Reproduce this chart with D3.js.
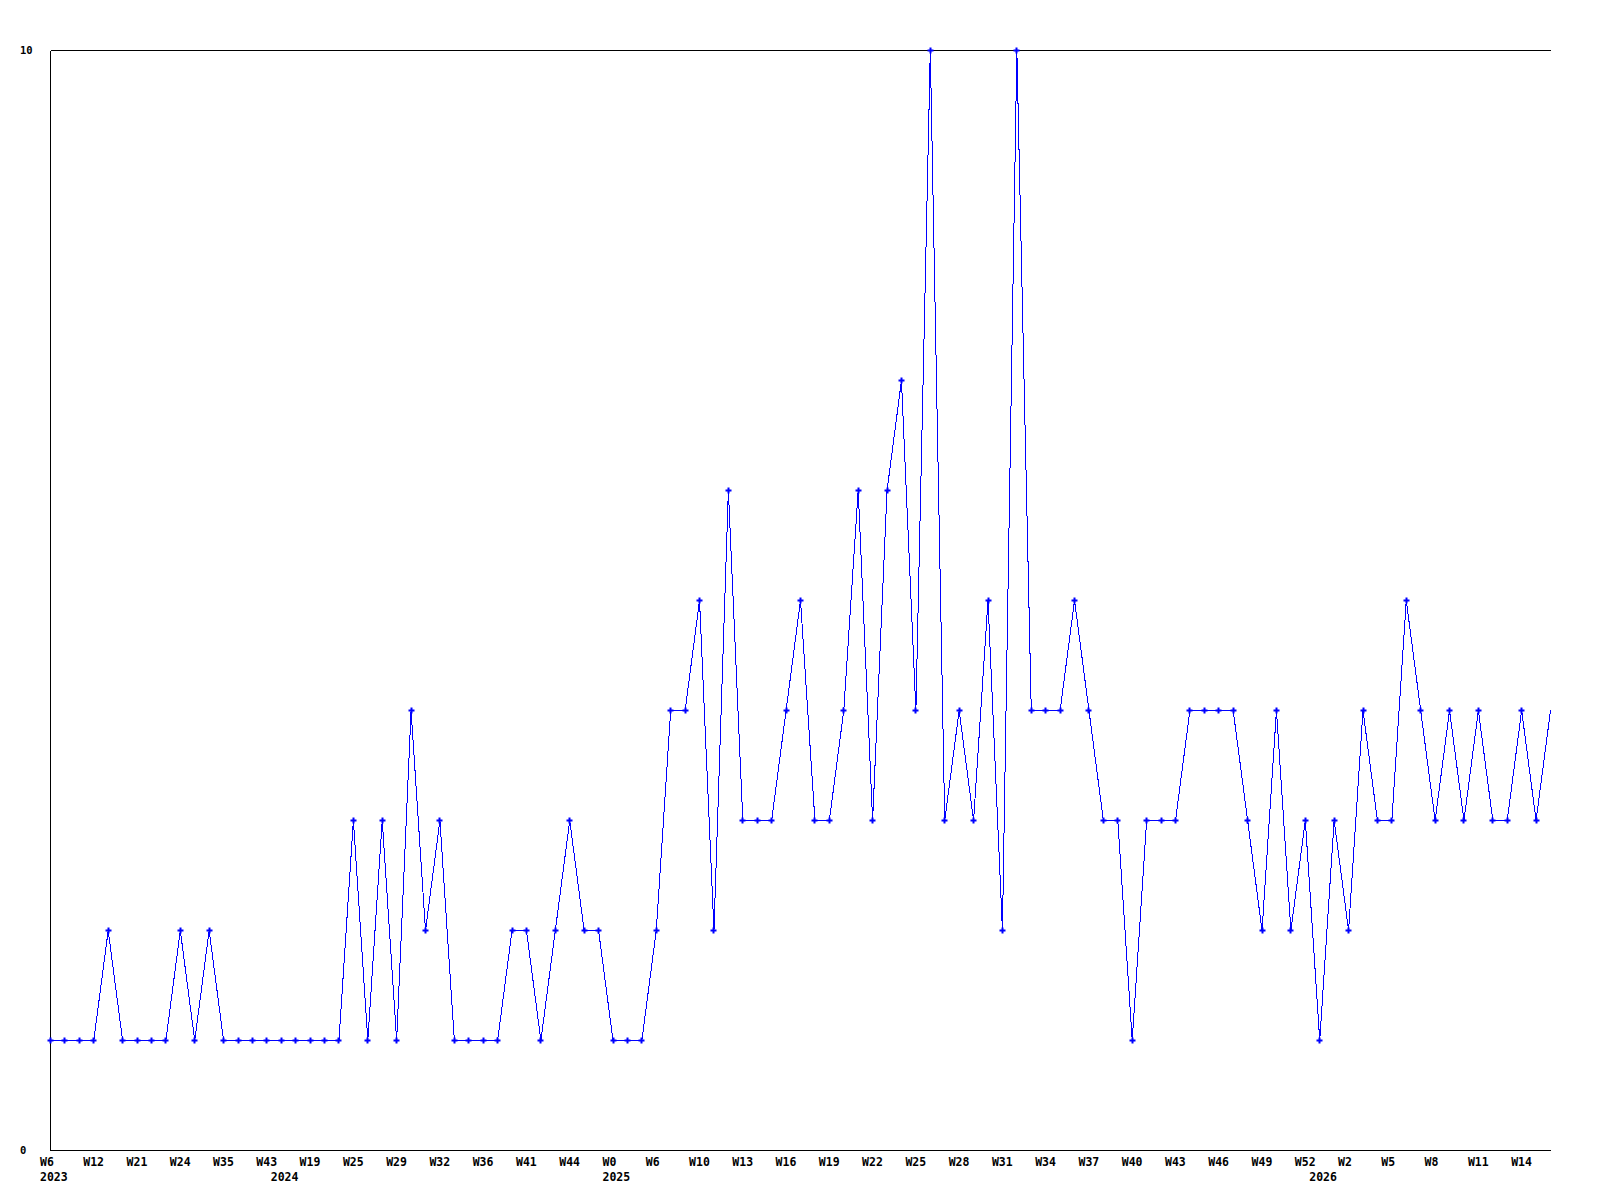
<!DOCTYPE html>
<html>
<head>
<meta charset="utf-8">
<script src="https://cdn.jsdelivr.net/npm/d3@7"></script>
<style>
  body { margin: 0; background: #fff; }
  text { font-family: "DejaVu Sans Mono", "Liberation Mono", monospace; font-weight: bold; fill: #000; }
</style>
</head>
<body>
<svg id="chart"></svg>
<script>
// weekly counts, one per point, left to right
var values = [1, 1, 1, 1, 2, 1, 1, 1, 1, 2, 1, 2, 1, 1, 1, 1, 1, 1, 1, 1,
              1, 3, 1, 3, 1, 4, 2, 3, 1, 1, 1, 1, 2, 2, 1, 2, 3, 2, 2, 1,
              1, 1, 2, 4, 4, 5, 2, 6, 3, 3, 3, 4, 5, 3, 3, 4, 6, 3, 6, 7,
              4, 10, 3, 4, 3, 5, 2, 10, 4, 4, 4, 5, 4, 3, 3, 1, 3, 3, 3, 4,
              4, 4, 4, 3, 2, 4, 2, 3, 1, 3, 2, 4, 3, 3, 5, 4, 3, 4, 3, 4,
              3, 3, 4, 3, 4];

// week labels shown under every third point
var weekLabels = ['W6', 'W12', 'W21', 'W24', 'W35', 'W43', 'W19', 'W25', 'W29', 'W32',
                  'W36', 'W41', 'W44', 'W0', 'W6', 'W10', 'W13', 'W16', 'W19', 'W22',
                  'W25', 'W28', 'W31', 'W34', 'W37', 'W40', 'W43', 'W46', 'W49', 'W52',
                  'W2', 'W5', 'W8', 'W11', 'W14'];
var weekIdx = weekLabels.map(function(d, i) { return i * 3; });

// year labels and the point where each year starts
var years = ['2023', '2024', '2025', '2026'];
var yearIdx = [0, 16, 39, 88];

var yTicks = [0, 10];

var W = 1600, H = 1200;
var mLeft = 50, mRight = 1550, mTop = 50, mBottom = 1150;

var svg = d3.select('#chart')
    .attr('width', W)
    .attr('height', H);

var x = d3.scaleLinear().domain([0, values.length - 1]).range([mLeft, mRight]);
var y = d3.scaleLinear().domain([0, 10]).range([mBottom, mTop]);

var g = svg.append('g').attr('transform', 'translate(0.5,0.5)');

// frame: left, bottom, and line at the top value
g.append('line')
    .attr('x1', mLeft).attr('x2', mLeft)
    .attr('y1', y(10)).attr('y2', y(0))
    .attr('stroke', '#000').attr('shape-rendering', 'crispEdges');
g.selectAll('line.hgrid')
    .data(yTicks)
    .enter()
    .append('line')
    .attr('class', 'hgrid')
    .attr('x1', mLeft).attr('x2', mRight)
    .attr('y1', function(d) { return y(d); })
    .attr('y2', function(d) { return y(d); })
    .attr('stroke', '#000').attr('shape-rendering', 'crispEdges');

svg.selectAll('text.ylab')
    .data(yTicks)
    .enter()
    .append('text')
    .attr('class', 'ylab')
    .attr('x', 20)
    .attr('y', function(d) { return y(d) + 4; })
    .style('font-size', '10.5px')
    .text(function(d) { return d; });

svg.selectAll('text.wk')
    .data(weekLabels)
    .enter()
    .append('text')
    .attr('class', 'wk')
    .attr('x', function(d, i) { return x(weekIdx[i]) - 10; })
    .attr('y', 1166)
    .style('font-size', '11.5px')
    .text(function(d) { return d; });

svg.selectAll('text.yr')
    .data(years)
    .enter()
    .append('text')
    .attr('class', 'yr')
    .attr('x', function(d, i) { return x(yearIdx[i]) - 10; })
    .attr('y', 1181)
    .style('font-size', '11.5px')
    .text(function(d) { return d; });

var line = d3.line()
    .x(function(d, i) { return x(i); })
    .y(function(d) { return y(d); });

g.append('path')
    .datum(values)
    .attr('d', line)
    .attr('fill', 'none')
    .attr('stroke', '#0000ff')
    .attr('stroke-width', 1)
    .attr('shape-rendering', 'crispEdges');

// markers on every point but the last one, which sits on the edge
var cross = d3.symbol().type(d3.symbolCross).size(20);
g.selectAll('path.pt')
    .data(values.slice(0, values.length - 1))
    .enter()
    .append('path')
    .attr('class', 'pt')
    .attr('d', cross)
    .attr('transform', function(d, i) { return 'translate(' + Math.round(x(i)) + ',' + Math.round(y(d)) + ')'; })
    .attr('fill', '#0000ff');
</script>
</body>
</html>
